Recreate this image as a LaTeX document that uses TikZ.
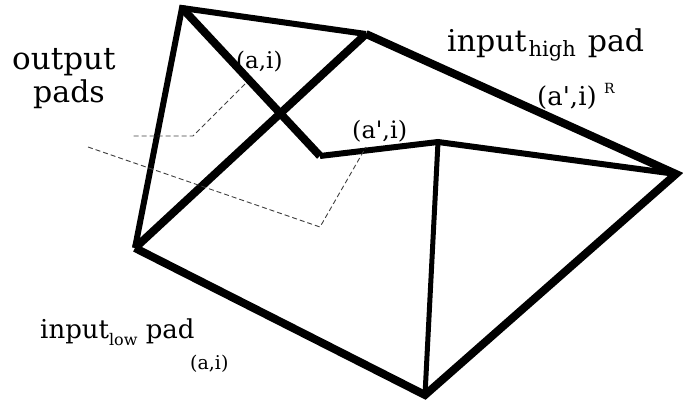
\documentclass[tikz,border=0pt]{standalone}
\usepackage{fontspec}
\setmainfont{DejaVu Serif}[Ligatures=TeXOff]
\begin{document}
\begin{tikzpicture}[x=1pt,y=-1pt,
  heavy/.style={line width=8pt,line join=miter,miter limit=20},
  medium/.style={line width=6pt,line join=miter,miter limit=20},
  light/.style={line width=5pt,line join=miter,miter limit=20},
  guide/.style={black!75,line width=0.9pt,dash pattern=on 5pt off 3pt},
  lbl/.style={inner sep=0pt,anchor=base west}]
\useasboundingbox (0,0) rectangle (683,406);
% vertices
\coordinate (A) at (182,8);
\coordinate (B) at (366,34);
\coordinate (C) at (676,174);
\coordinate (D) at (425,395);
\coordinate (E) at (135,248);
\coordinate (F) at (320,156);
\coordinate (G) at (438,142);
% dashed guide corners
\coordinate (p1) at (245,84);
\coordinate (p2) at (193,136);
\coordinate (p3) at (133,136);
\coordinate (q1) at (88,147);
\coordinate (q2) at (320,227);
\coordinate (q3) at (366,147);
% edges
\draw[medium] (E) -- (A) -- (B);
\draw[heavy] (A) -- (F);
\draw[medium] (F) -- (G) -- (C);
\draw[heavy] (B) -- (C) -- (D) -- (E);
\draw[heavy] (B) -- (E);
\draw[light] (G) -- (D);
% dashed guides
\draw[guide] (p1) -- (p2) -- (p3);
\draw[guide] (q1) -- (q2) -- (q3);
% labels
\node[lbl,font=\fontsize{31}{31}\selectfont] (out) at (12,70) {output};
\node[lbl,font=\fontsize{30}{30}\selectfont] (pads) at (33,103) {pads};
\node[lbl,font=\fontsize{30}{30}\selectfont] (hi) at (447,52) {input\kern2pt\raisebox{-5pt}{\fontsize{21}{21}\selectfont high}\hspace{12pt}pad};
\node[lbl,font=\fontsize{26}{26}\selectfont] (lo) at (40,338) {input\raisebox{-7pt}{\fontsize{16}{16}\selectfont low} pad};
\node[lbl,font=\fontsize{23}{23}\selectfont] (ai1) at (236,69) {(a,i)};
\node[lbl,font=\fontsize{19}{19}\selectfont] (ai2) at (190,369) {(a,i)};
\node[lbl,font=\fontsize{24}{24}\selectfont] (api1) at (352,139) {(a',i)};
\node[lbl,font=\fontsize{26}{26}\selectfont] (api2) at (537,106) {(a',i)};
\node[lbl,font=\fontsize{14}{14}\selectfont] (R) at (604,94) {R};
\end{tikzpicture}
\end{document}
